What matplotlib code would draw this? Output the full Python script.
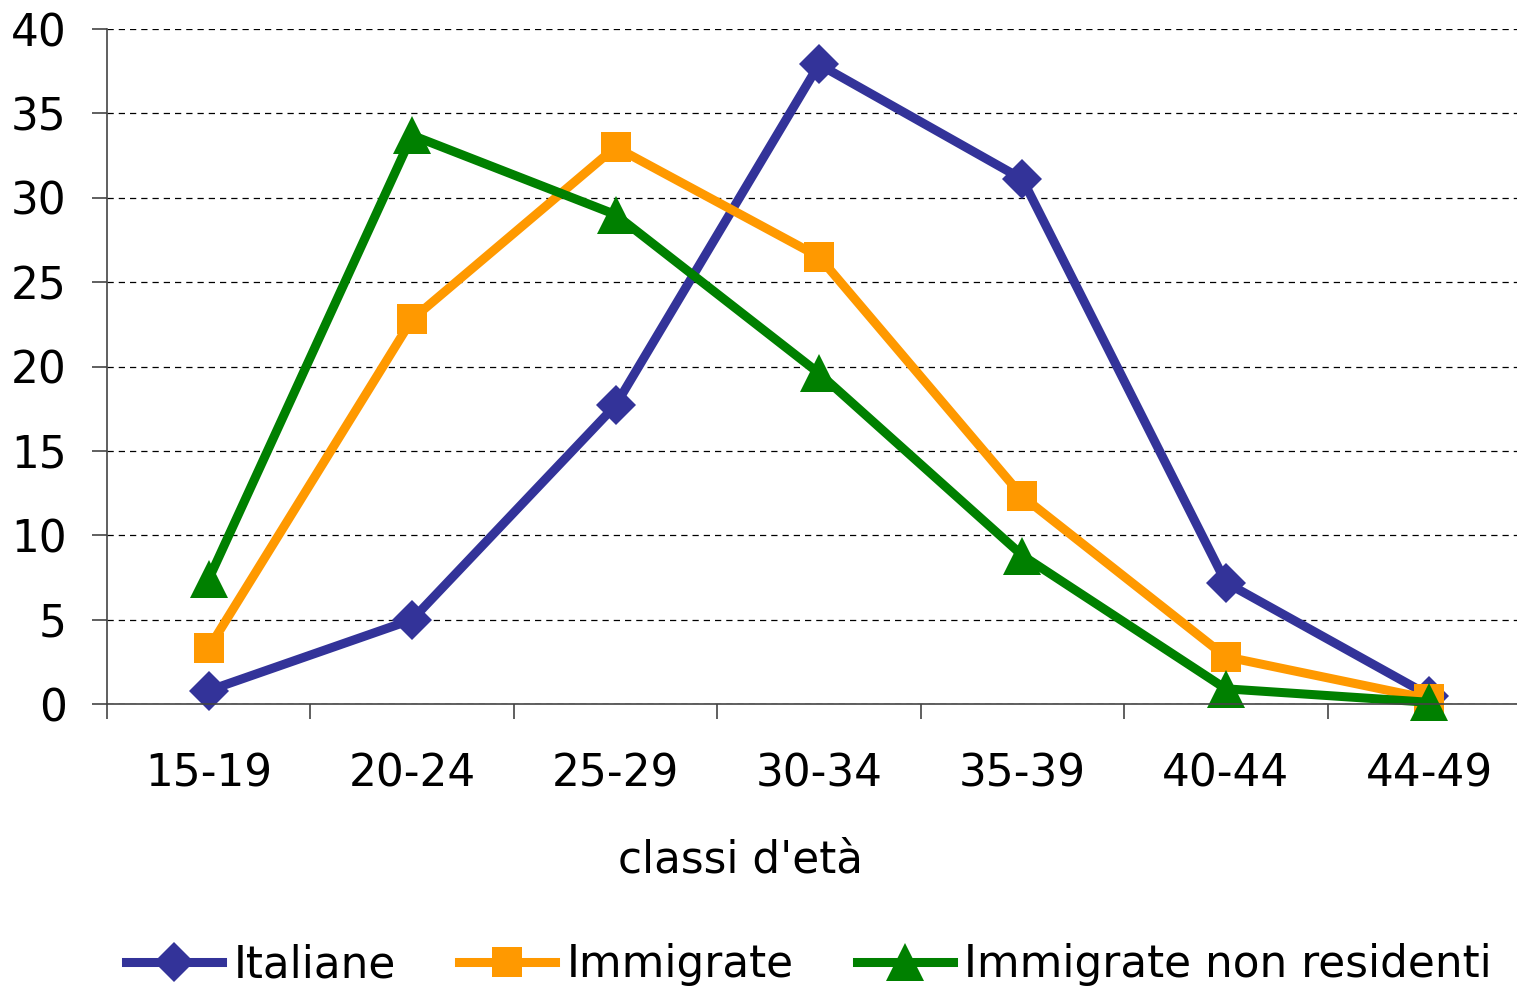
import matplotlib
matplotlib.use("Agg")
import matplotlib.pyplot as plt
from matplotlib.lines import Line2D

categories = ["15-19", "20-24", "25-29", "30-34", "35-39", "40-44", "44-49"]
italiane = [0.8, 5.0, 17.7, 37.9, 31.1, 7.2, 0.5]
immigrate = [3.3, 22.8, 33.0, 26.5, 12.3, 2.8, 0.3]
non_residenti = [7.4, 33.7, 29.0, 19.6, 8.8, 0.9, 0.1]

series = [
    ("Italiane", italiane, "#333399", "D", 20),
    ("Immigrate", immigrate, "#FF9900", "s", 21),
    ("Immigrate non residenti", non_residenti, "#008000", "^", 27),
]

FS = 31.5
LW = 6.5
W, H = 1517, 990
fig = plt.figure(figsize=(W / 100, H / 100), dpi=100)
plt.rcParams["font.family"] = ["DejaVu Sans"]

x0, x1 = 107, 1531
y_top, y_bot = 29, 704
ax = fig.add_axes([x0 / W, 1 - y_bot / H, (x1 - x0) / W, (y_bot - y_top) / H])

xs = list(range(len(categories)))
for name, vals, color, marker, ms in series:
    ax.plot(xs, vals, color=color, lw=LW, marker=marker, ms=ms,
            markeredgewidth=0, label=name, solid_joinstyle="round", clip_on=False)

ax.set_xlim(-0.5, len(categories) - 0.5)
ax.set_ylim(0, 40)
ax.set_yticks(range(0, 41, 5))
ax.set_xticks(xs)
ax.set_xticklabels(categories)
ax.set_xticks([i - 0.5 for i in range(len(categories) + 1)], minor=True)

ax.yaxis.grid(True, linestyle=(0, (5, 4)), color="black", lw=0.9)
ax.set_axisbelow(True)
for s in ["top", "right"]:
    ax.spines[s].set_visible(False)
for s in ["left", "bottom"]:
    ax.spines[s].set_color("#444444")
    ax.spines[s].set_linewidth(1.2)

ax.tick_params(axis="y", length=11, width=1.2, color="#444444", labelsize=FS, pad=18)
ax.tick_params(axis="x", which="major", length=0, labelsize=FS, pad=35)
ax.tick_params(axis="x", which="minor", length=11, width=1.2, color="#444444")

fig.text(740 / W, 1 - 860 / H, "classi d'età", ha="center", va="center", fontsize=FS)

handles = [Line2D([], [], color=c, lw=LW, marker=m, ms=ms, markeredgewidth=0)
           for _, _, c, m, ms in series]
labels = [n for n, *_ in series]
fig.legend(handles, labels, loc="center", bbox_to_anchor=(809 / W, 1 - 965 / H),
           ncol=3, frameon=False, fontsize=FS, handlelength=2.2,
           handletextpad=0.25, columnspacing=1.45, borderaxespad=0, borderpad=0)

fig.savefig("out.png", dpi=100)
